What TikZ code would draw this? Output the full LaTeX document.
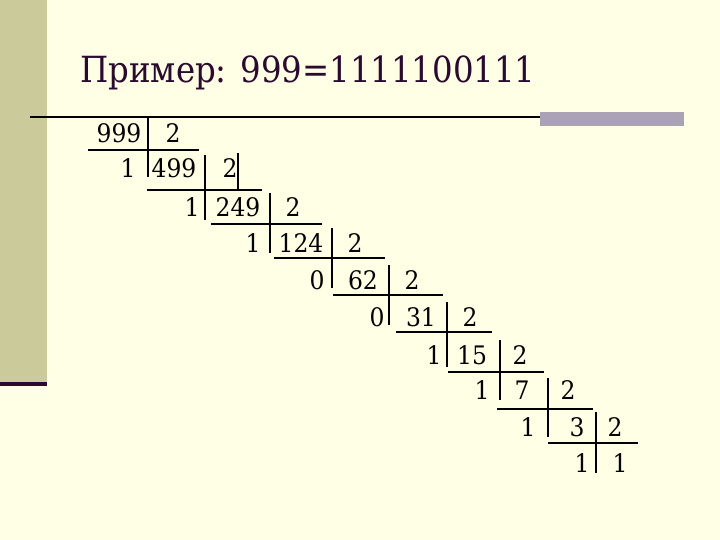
\documentclass[tikz,border=0pt]{standalone}
\usepackage{fontspec}
\newfontfamily\tnr[FakeStretch=0.92]{DejaVu Serif}
\newfontfamily\ttl[FakeStretch=0.9]{DejaVu Serif}
\definecolor{bg}{HTML}{FFFFE6}
\definecolor{barc}{HTML}{CBCA9A}
\definecolor{darkp}{HTML}{2A0A2E}
\definecolor{grayb}{HTML}{ABA3B5}
\begin{document}
\begin{tikzpicture}[x=1pt,y=-1pt,
  num/.style={font=\tnr\fontsize{25.5}{30}\selectfont, inner sep=0pt, anchor=base},
  ln/.style={line width=1.5pt, black}]
\useasboundingbox (0,0) rectangle (720,540);
\fill[bg] (0,0) rectangle (720,540);
\fill[barc] (0,0) rectangle (47,382);
\fill[darkp] (0,382) rectangle (47,386);
\fill[grayb] (540,112) rectangle (684,126);
\draw[line width=2pt, black] (30,117) -- (540,117);
\node[anchor=base west, inner sep=0pt, text=darkp, font=\ttl\fontsize{36}{40}\selectfont] (title) at (80,83) {Пример: 999=1111100111};
% row 0
\node[num] (n0) at (119,143) {999};
\node[num] (d0) at (173,143) {2};
% row 1
\node[num] (r1) at (128,178) {1};
\node[num] (q1) at (174,178) {499};
\node[num] (d1) at (230,178) {2};
% row 2
\node[num] (r2) at (192,216) {1};
\node[num] (q2) at (238,216) {249};
\node[num] (d2) at (293,216) {2};
% row 3
\node[num] (r3) at (253,252) {1};
\node[num] (q3) at (301,252) {124};
\node[num] (d3) at (355,252) {2};
% row 4
\node[num] (r4) at (317,289) {0};
\node[num] (q4) at (363,289) {62};
\node[num] (d4) at (412,289) {2};
% row 5
\node[num] (r5) at (377,326) {0};
\node[num] (q5) at (421,326) {31};
\node[num] (d5) at (470,326) {2};
% row 6
\node[num] (r6) at (434,364) {1};
\node[num] (q6) at (472,364) {15};
\node[num] (d6) at (520,364) {2};
% row 7
\node[num] (r7) at (482,399) {1};
\node[num] (q7) at (522,399) {7};
\node[num] (d7) at (568,399) {2};
% row 8
\node[num] (r8) at (528,436) {1};
\node[num] (q8) at (577,436) {3};
\node[num] (d8) at (615,436) {2};
% row 9
\node[num] (r9) at (582,472) {1};
\node[num] (q9) at (620,472) {1};
% vertical bars
\draw[ln] (148,118) -- (148,177);
\draw[ln] (205,155) -- (205,220);
\draw[ln] (238,153) -- (238,190);
\draw[ln] (270,193) -- (270,253);
\draw[ln] (332,228) -- (332,288);
\draw[ln] (389,265) -- (389,325);
\draw[ln] (447,302) -- (447,367);
\draw[ln] (500,340) -- (500,400);
\draw[ln] (548,378) -- (548,437);
\draw[ln] (596,412) -- (596,473);
% horizontal bars
\draw[ln] (88,150) -- (199,150);
\draw[ln] (147,190) -- (262,190);
\draw[ln] (211,224) -- (322,224);
\draw[ln] (274,258) -- (385,258);
\draw[ln] (333,295) -- (443,295);
\draw[ln] (396,332) -- (492,332);
\draw[ln] (448,372) -- (544,372);
\draw[ln] (497,409) -- (593,409);
\draw[ln] (548,443) -- (638,443);
\end{tikzpicture}
\end{document}
